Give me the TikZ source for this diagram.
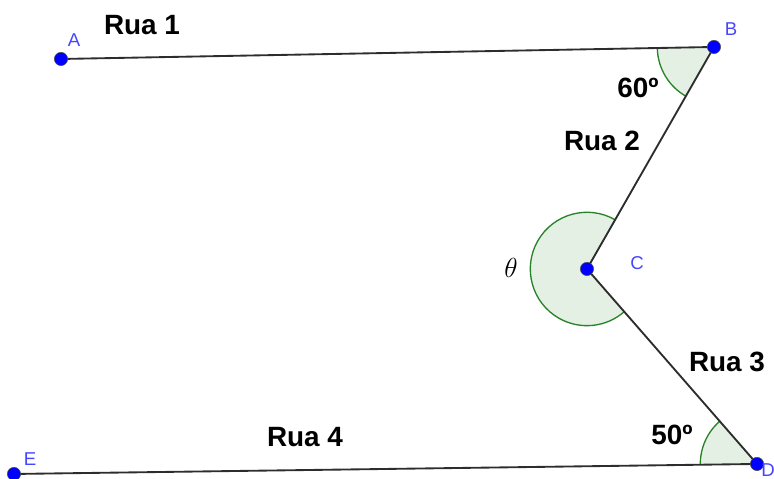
\documentclass[tikz,border=0pt]{standalone}
\usepackage{fontspec}
\setmainfont{Liberation Sans}
\usepackage{tkz-euclide}
\definecolor{AngleClr}{RGB}{40,130,40}
\definecolor{PointClr}{RGB}{0,0,255}
\definecolor{LabelClr}{RGB}{70,70,255}
\definecolor{StreetClr}{RGB}{45,45,45}

\begin{document}
\begin{tikzpicture}[rua/.style={font=\fontsize{21}{25}\selectfont\bfseries,inner sep=0pt},
  ptlabel/.style={text=LabelClr,font=\fontsize{14}{17}\selectfont,inner sep=0pt}]
\useasboundingbox (0,0) rectangle (20.479,12.673);
\tkzSetUpLine[line width=1.4pt,color=StreetClr]
\tkzSetUpPoint[fill=PointClr,color=black!70,line width=0.6pt]

\tkzDefPoints{1.614/11.112/A,18.891/11.430/B,15.531/5.556/C,20.029/0.397/D,0.370/0.132/E}

\tkzFillAngles[fill=AngleClr,size=1.5,fill opacity=0.12](A,B,C B,C,D C,D,E)
\tkzMarkAngles[line width=1pt,size=1.5,color=AngleClr](A,B,C B,C,D C,D,E)

\tkzDrawSegments(A,B B,C C,D D,E)

\tkzDrawPoints[size=10](A,B,C,D,E)

\node[ptlabel] (labA) at (1.958,11.615) {A};
\node[ptlabel] (labB) at (19.341,11.906) {B};
\node[ptlabel] (labC) at (16.854,5.715) {C};
\node[ptlabel] (labD) at (20.320,0.238) {D};
\node[ptlabel] (labE) at (0.794,0.529) {E};

\node[rua] (rua1) at (3.757,11.999) {Rua 1};
\node[rua] (rua2) at (15.928,8.943) {Rua 2};
\node[rua] (rua3) at (19.235,3.096) {Rua 3};
\node[rua] (rua4) at (8.070,1.111) {Rua 4};
\node[rua] (angB) at (16.880,10.345) {60º};
\node[rua] (angD) at (17.780,1.164) {50º};
\node[inner sep=0pt,font=\fontsize{20}{24}\selectfont] (angC) at (13.520,5.583) {$\theta$};

\end{tikzpicture}
\end{document}
